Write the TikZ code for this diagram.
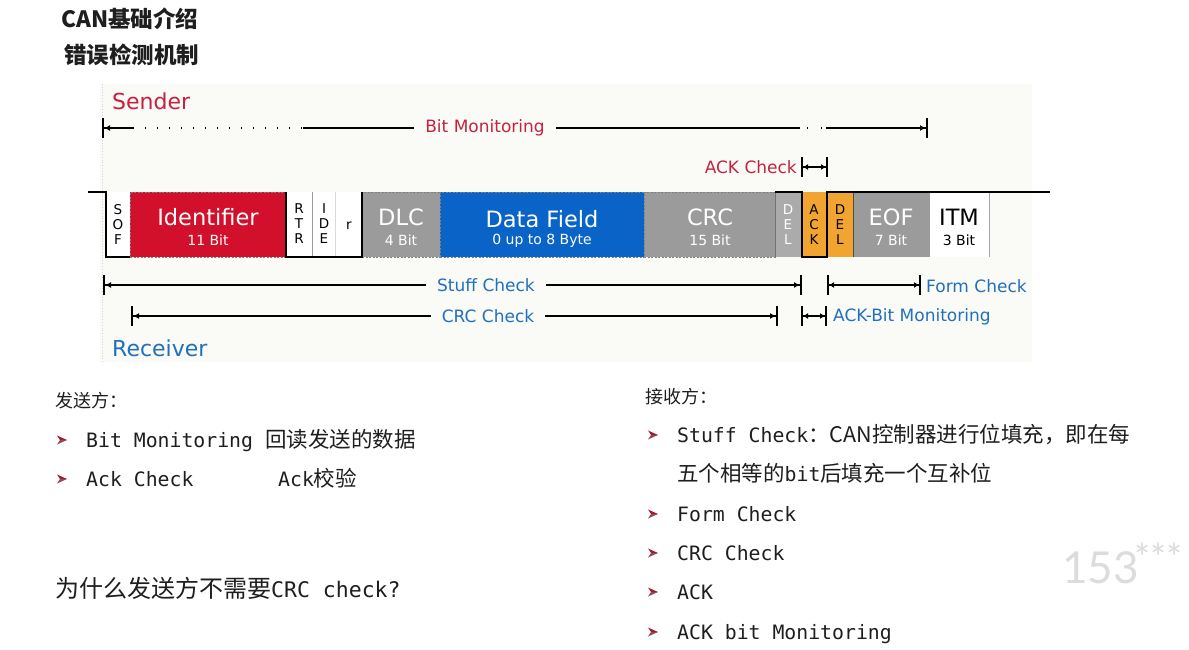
\documentclass[tikz,border=0pt]{standalone}
\usepackage{fontspec}
\setmainfont{DejaVu Sans}
\newfontfamily\cjk{Noto Sans CJK SC}
\newfontfamily\mono{DejaVu Sans Mono}
\newfontfamily\wmfont{Lato}
\usetikzlibrary{arrows.meta}
\newcommand\fsz[1]{\fontsize{#1}{#1}\selectfont}

\definecolor{idred}{HTML}{D3102B}
\definecolor{dfblue}{HTML}{0A64C8}
\definecolor{fgray}{HTML}{9B9B9B}
\definecolor{dgray}{HTML}{ABABAB}
\definecolor{ackor}{HTML}{F2A431}
\definecolor{sendred}{HTML}{C4223F}
\definecolor{recblue}{HTML}{2070BA}
\definecolor{panel}{HTML}{FAFAF7}
\definecolor{bulred}{HTML}{A01C33}
\definecolor{txt}{HTML}{1E1E1E}
\definecolor{wmgray}{HTML}{DCDCDC}

\tikzset{
  field/.style={anchor=north west, inner sep=0, outer sep=0, minimum height=65pt},
  dfield/.style={field, draw=black!50, line width=0.6pt, dash pattern=on 2pt off 1.5pt},
  big/.style={inner sep=0, text=white, font=\fsz{22.5}},
  small/.style={inner sep=0, text=white, font=\fsz{14}},
  vlet/.style={inner sep=0, align=center, font=\fontsize{13.5}{15}\selectfont},
  trace/.style={line width=2pt, black, line join=miter},
  tipS/.style={line width=1.3pt, {Bar[width=20pt,line width=2pt]Latex[length=6pt,width=6pt]}-},
  tipE/.style={line width=1.3pt, -{Latex[length=6pt,width=6pt]Bar[width=20pt,line width=2pt]}},
  tipB/.style={line width=1.3pt, {Bar[width=20pt,line width=2pt]Latex[length=5pt,width=6pt]}-{Latex[length=5pt,width=6pt]Bar[width=20pt,line width=2pt]}},
  plain/.style={line width=1.3pt},
  dotline/.style={line width=1.4pt, dash pattern=on 1.4pt off 10.6pt},
  slab/.style={inner sep=0, inner xsep=11pt, text=sendred, font=\fsz{17}},
  rlab/.style={inner sep=0, inner xsep=11pt, text=recblue, font=\fsz{17}, fill=panel},
  txt/.style={anchor=base west, inner sep=0, text=txt},
  bullet/.pic={
    \fill[bulred] (0,-4.5) -- (10,0) -- (3,0) -- cycle;
    \fill[bulred!55!gray] (3,0) -- (10,0) -- (0,4.5) -- cycle;
  }
}

\begin{document}
\begin{tikzpicture}[x=1pt,y=-1pt]
\path[use as bounding box, fill=white] (0,0) rectangle (1189,650);

% heading
\node[txt, font=\cjk\bfseries\fsz{22.5}] (title1) at (61,28) {CAN基础介绍};
\node[txt, font=\cjk\bfseries\fsz{22.5}] (title2) at (64,64) {错误检测机制};

% frame panel
\fill[panel] (100,84) rectangle (1032,362);
\draw[black!15, line width=0.8pt, dotted] (102,84) -- (102,362);

\node[inner sep=0, anchor=west, text=sendred, font=\fsz{22}] (sender) at (112,101) {Sender};
\node[inner sep=0, anchor=west, text=recblue, font=\fsz{22}] (receiver) at (112,348) {Receiver};

% CAN data frame fields
\node[field, fill=white, minimum width=24pt] (sof) at (106,192) {};
\node[dfield, fill=idred, minimum width=156pt] (ident) at (130,192) {};
\node[field, fill=white, minimum width=26pt] (rtr) at (286,192) {};
\node[field, fill=white, minimum width=23pt] (ide) at (312,192) {};
\node[field, fill=white, minimum width=27pt] (res) at (335,192) {};
\node[dfield, fill=fgray, minimum width=78pt] (dlc) at (362,192) {};
\node[dfield, fill=dfblue, minimum width=204pt] (data) at (440,192) {};
\node[dfield, fill=fgray, minimum width=131pt] (crc) at (644,192) {};
\node[field, fill=dgray, minimum width=27pt] (del1) at (775,192) {};
\node[field, fill=ackor, minimum width=25pt] (ack) at (802,192) {};
\node[field, fill=ackor, minimum width=26pt] (del2) at (827,192) {};
\node[field, fill=fgray, minimum width=77pt] (eof) at (853,192) {};
\node[field, fill=white, minimum width=59pt] (itm) at (930,192) {};

% separators
\draw[black!40, line width=0.7pt] (ide.north west) -- (ide.south west);
\draw[black!15, line width=0.7pt] (res.north west) -- (res.south west);
\draw[black!55, line width=0.8pt] (del1.north west) -- (del1.south west);
\draw[black!70, line width=1pt] (eof.north west) -- (eof.south west);
\draw[black!35, line width=1pt] (itm.north east) -- (itm.south east);

% bus level
\coordinate (idle) at (88,192);
\coordinate (busend) at (1050,192);
\draw[trace] (idle) -- (sof.north west) -- (sof.south west) -- (sof.south east);
\draw[trace] (rtr.north west) -- (rtr.south west) -- (res.south east) -- (res.north east);
\draw[trace] (del1.north west) -- (ack.north west) -- (ack.south west) -- (ack.south east) -- (ack.north east) -- (busend);

% field labels
\node[vlet] (sofT) at (118,224) {S\\O\\F};
\node[big] (identT) at (208,217) {Identifier};
\node[small] (identB) at (208,240) {11 Bit};
\node[vlet] (rtrT) at (299,224) {R\\T\\R};
\node[vlet] (ideT) at (324,224) {I\\D\\E};
\node[inner sep=0, font=\fsz{13.5}] (resT) at (349,226) {r};
\node[big] (dlcT) at (401,217) {DLC};
\node[small] (dlcB) at (401,240) {4 Bit};
\node[big] (dataT) at (542,219) {Data Field};
\node[small] (dataB) at (542,241) {0 up to 8 Byte};
\node[big] (crcT) at (710,217) {CRC};
\node[small] (crcB) at (710,240) {15 Bit};
\node[vlet, text=white] (del1T) at (788,225) {D\\E\\L};
\node[vlet] (ackT) at (814,225) {A\\C\\K};
\node[vlet] (del2T) at (840,225) {D\\E\\L};
\node[big] (eofT) at (891,217) {EOF};
\node[small] (eofB) at (891,240) {7 Bit};
\node[big, text=black] (itmT) at (959,217) {ITM};
\node[small, text=black] (itmB) at (959,240) {3 Bit};

% sender checks
\coordinate (bmL) at (102,128);
\coordinate (bm1) at (133,128);
\coordinate (bm2) at (303,128);
\coordinate (bm3) at (800,128);
\coordinate (bm4) at (826,128);
\coordinate (bmR) at (928,128);
\node[slab] (bmT) at (485,128) {Bit Monitoring};
\draw[tipS] (bmL) -- (bm1);
\draw[dotline] (bm1) -- (bm2);
\draw[plain] (bm2) -- (bmT.west);
\draw[plain] (bmT.east) -- (bm3);
\draw[line width=1.4pt, dash pattern=on 1.4pt off 12.6pt, dash phase=-7pt] (bm3) -- (bm4);
\draw[tipE] (bm4) -- (bmR);

\coordinate (akL) at (801,167);
\coordinate (akR) at (828,167);
\node[inner sep=0, anchor=east, text=sendred, font=\fsz{17}] (akT) at (797,167) {ACK Check};
\draw[tipB] (akL) -- (akR);

% receiver checks
\coordinate (scL) at (103,285);
\coordinate (scR) at (802,285);
\node[rlab] (scT) at (486,285) {Stuff Check};
\draw[tipS] (scL) -- (scT.west);
\draw[tipE] (scT.east) -- (scR);

\coordinate (fcL) at (827,285);
\coordinate (fcR) at (921,285);
\draw[tipB] (fcL) -- (fcR);
\node[inner sep=0, anchor=west, text=recblue, font=\fsz{17}] (fcT) at (926,286) {Form Check};

\coordinate (ccL) at (131,316);
\coordinate (ccR) at (778,316);
\node[rlab] (ccT) at (488,316) {CRC Check};
\draw[tipS] (ccL) -- (ccT.west);
\draw[tipE] (ccT.east) -- (ccR);

\coordinate (abL) at (801,316);
\coordinate (abR) at (827,316);
\draw[tipB] (abL) -- (abR);
\node[inner sep=0, anchor=west, text=recblue, font=\fsz{17}] (abT) at (833,317) {ACK-Bit Monitoring};

% sender notes
\node[txt] (sNote) at (55,407) {\cjk\fsz{18}发送方：};
\pic at (57,440) {bullet};
\node[txt] (sBit) at (86,447.5) {{\mono\fsz{19.8}Bit Monitoring }{\cjk\fsz{21.5}回读发送的数据}};
\pic at (57,479) {bullet};
\node[txt] (sAck) at (86,486.5) {\mono\fsz{19.8}Ack Check};
\node[txt] (sAckCn) at (278,486.5) {{\mono\fsz{19.8}Ack}{\cjk\fsz{21.5}校验}};
\node[txt] (question) at (55,597) {{\cjk\fsz{24}为什么发送方不需要}{\mono\fsz{21.5}CRC check?}};

% receiver notes
\node[txt] (rNote) at (645,403) {\cjk\fsz{18}接收方：};
\pic at (648,435) {bullet};
\node[txt] (rStuff) at (677,442.5) {{\mono\fsz{19.8}Stuff Check}{\cjk\fsz{21.5}：CAN控制器进行位填充，即在每}};
\node[txt] (rStuff2) at (677,481.5) {{\cjk\fsz{21.5}五个相等的}{\mono\fsz{19.8}bit}{\cjk\fsz{21.5}后填充一个互补位}};
\pic at (648,514) {bullet};
\node[txt] (rForm) at (677,521.5) {\mono\fsz{19.8}Form Check};
\pic at (648,553) {bullet};
\node[txt] (rCrc) at (677,560.5) {\mono\fsz{19.8}CRC Check};
\pic at (648,592) {bullet};
\node[txt] (rAck) at (677,599.5) {\mono\fsz{19.8}ACK};
\pic at (648,632) {bullet};
\node[txt] (rAckBit) at (677,639.5) {\mono\fsz{19.8}ACK bit Monitoring};

% watermark
\node[txt, text=wmgray, font=\wmfont\fsz{44}] (wm) at (1062,583) {153};
\node[txt, text=wmgray, font=\wmfont\fsz{38}] (wmStars) at (1134,571) {***};
\end{tikzpicture}
\end{document}
